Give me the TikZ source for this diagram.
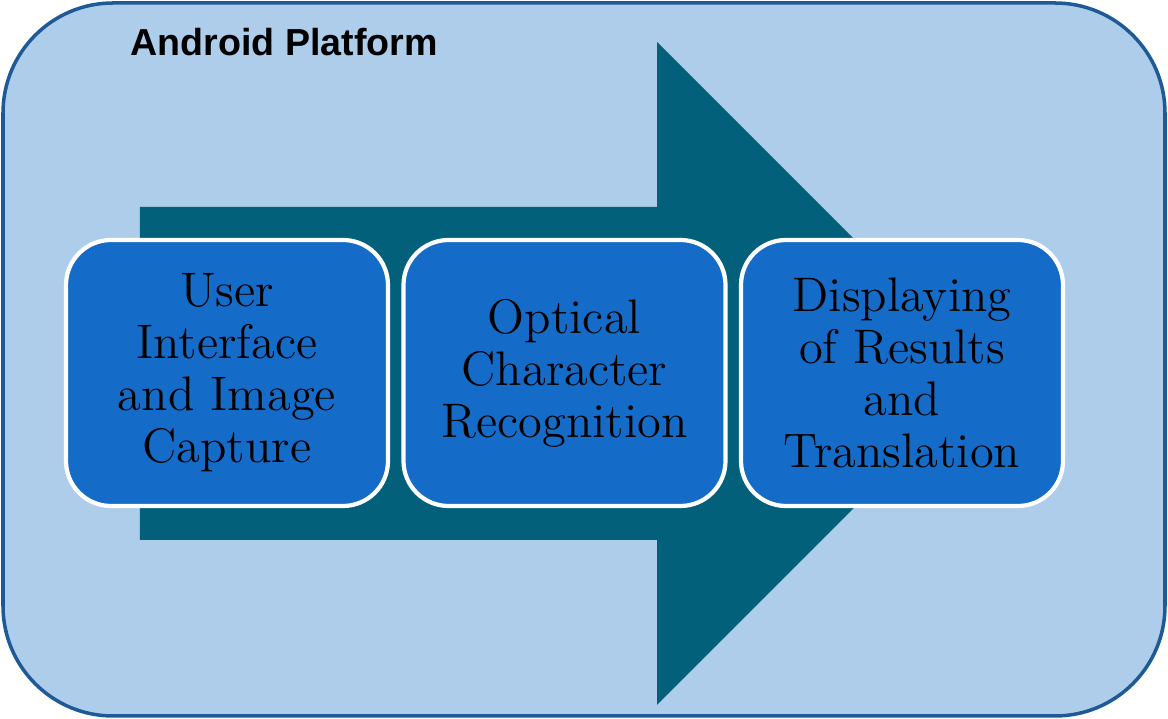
\documentclass[tikz,border=0pt]{standalone}
\usepackage{fontspec}
\newfontfamily\labelfont{Liberation Sans}
\usetikzlibrary{positioning}
\definecolor{frameFill}{RGB}{174,205,235}
\definecolor{frameLine}{RGB}{30,90,150}
\definecolor{arrowFill}{RGB}{2,96,122}
\definecolor{stageFill}{RGB}{20,108,200}
\tikzset{
    frame/.style={rectangle, draw=frameLine, fill=frameFill, line width=1pt, rounded corners=1.1cm, minimum width=11.62cm, minimum height=7.13cm},
    stage/.style={rectangle, draw=white, fill=stageFill, line width=1.2pt, rounded corners=0.45cm, minimum width=3.22cm, minimum height=2.66cm, align=center, text width=2.9cm, font=\fontsize{13.8}{14.8}\selectfont},
    node distance=3.375cm
}

\begin{document}
\begin{tikzpicture}[on grid]
  \useasboundingbox (0,0) rectangle (11.68,7.19);
  \node[frame] (platform) at (5.84,3.595) {};
  \node[anchor=west, inner sep=0, font=\labelfont\bfseries\fontsize{10.7}{12}\selectfont] (title) at (1.30,6.77) {Android Platform};

  % big flow arrow behind the stages
  \fill[arrowFill] (1.40,5.12) -- (6.57,5.12) -- (6.57,6.77) -- (9.885,3.455)
    -- (6.57,0.14) -- (6.57,1.79) -- (1.40,1.79) -- cycle;

  \node[stage] (capture) at (2.27,3.46) {User\\Interface\\and Image\\Capture};
  \node[stage, right = of capture] (ocr) {Optical\\Character\\Recognition};
  \node[stage, right = of ocr] (results) {Displaying\\of Results\\and\\Translation};
\end{tikzpicture}
\end{document}
